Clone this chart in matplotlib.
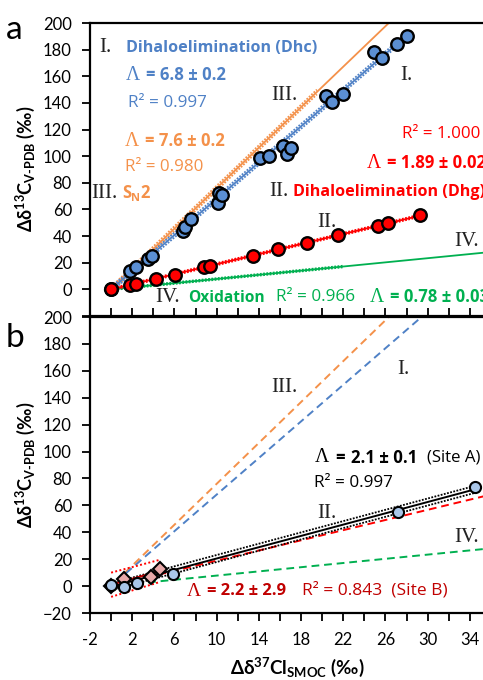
import matplotlib
matplotlib.use("Agg")
import matplotlib.pyplot as plt
import numpy as np

plt.rcParams['font.family'] = ['Lato', 'DejaVu Sans']
plt.rcParams['mathtext.fontset'] = 'custom'
plt.rcParams['mathtext.rm'] = 'Lato:bold'
plt.rcParams['mathtext.bf'] = 'Lato:bold'
plt.rcParams['mathtext.it'] = 'Lato:bold:italic'

# colours
BLUE = '#4F81C6'
ORANGE = '#F4914A'
RED = '#FF0000'
GREEN = '#00B050'
DARKRED = '#C00000'

# ---- panel a data ----
dhc_x = [0, 1.8, 2.4, 3.5, 3.9, 6.8, 7.0, 7.6, 10.1, 10.2, 10.5, 14.1, 15.0,
         16.3, 16.7, 17.0, 20.4, 20.9, 22.0, 24.9, 25.7, 27.1, 28.0]
dhc_y = [0, 13.5, 17, 22.5, 25, 43.5, 46.5, 52.5, 64.5, 72, 71, 99, 100,
         108, 102, 106.5, 145, 141, 147, 178, 174, 184, 190]
dhg_x = [0, 1.8, 2.4, 4.3, 6.1, 8.8, 9.4, 13.4, 15.8, 18.6, 21.5, 25.3, 26.2, 29.3]
dhg_y = [0, 3.5, 4, 8, 11, 17, 17.5, 25, 30.5, 34.5, 40.5, 47.5, 50, 56]

# slopes of the reference mechanisms: I Dhc, II Dhg, III SN2, IV oxidation
slope_dhc, slope_dhg, slope_sn2, slope_ox = 6.8, 1.89, 7.6, 0.78

# ---- panel b data ----
siteA_x = [0, 1.2, 2.5, 5.9, 27.2, 34.5]
siteA_y = [0.5, -1, 2, 9, 55, 73.5]
siteB_x = [0, 1.2, 3.8, 4.6]
siteB_y = [0, 5.5, 6.5, 13]
slope_A, icpt_A = 2.1, -0.5
slope_B, icpt_B = 2.2, 1.0
siteB_upper = ([0, 4.6], [10, 19.5])
siteB_lower = ([0, 4.6], [-8, 3])

xtick_labels = [-2, 2, 6, 10, 14, 18, 22, 26, 30, 34]

fig = plt.figure(figsize=(4.83, 6.8), dpi=100)
W, H = 483.0, 680.0
axa = fig.add_axes([90 / W, 1 - 316 / H, 401 / W, 293 / H])
axb = fig.add_axes([90 / W, 1 - 613 / H, 401 / W, 296 / H])


def fit(ax, slope, x0, x1, icpt=0.0, **kw):
    xs = np.array([x0, x1])
    ax.plot(xs, slope * xs + icpt, **kw)


def band(ax, slope, x0, x1, off, color, lw=1.3):
    xs = np.array([x0, x1])
    for s in (-1, 1):
        ax.plot(xs, slope * xs + s * off, color=color, lw=lw, ls=(0, (1, 0.8)))


# ---------------- panel a ----------------
fit(axa, slope_ox, -0.6, 36, color=GREEN, lw=1.3)
band(axa, slope_ox, 0, 22, 0.6, GREEN)
fit(axa, slope_dhg, 0, 29.5, color=RED, lw=1.3)
band(axa, slope_dhg, 0, 29.5, 0.8, RED)
fit(axa, slope_sn2, -0.4, 27, color=ORANGE, lw=1.3)
band(axa, slope_sn2, 0.3, 19.5, 1.8, ORANGE)
fit(axa, slope_dhc, 0, 28.2, color=BLUE, lw=1.3)
band(axa, slope_dhc, 0, 28.2, 1.8, BLUE)
axa.plot(dhc_x, dhc_y, 'o', ms=9, mfc='#5B8FD3', mec='black', mew=1.7, zorder=5)
axa.plot(dhg_x, dhg_y, 'o', ms=9, mfc=RED, mec='black', mew=1.7, zorder=6)

axa.set_xlim(-2, 36)
axa.set_ylim(-20, 200)
axa.set_yticks(range(-20, 201, 20))
axa.set_yticklabels([''] + [str(v) for v in range(0, 201, 20)])
axa.set_xticks(range(-2, 37, 2))
axa.set_xticklabels([])
axa.tick_params(axis='x', direction='in', length=6, width=1.3)

# ---------------- panel b ----------------
fit(axb, slope_ox, 3.5, 36, color=GREEN, lw=1.4, ls=(0, (4, 2.5)))
fit(axb, slope_dhg, 4.5, 36, color=RED, lw=1.4, ls=(0, (4, 2.5)))
fit(axb, slope_sn2, 1.3, 27, color=ORANGE, lw=1.4, ls=(0, (4, 2.5)))
fit(axb, slope_dhc, 1.4, 30, color=BLUE, lw=1.4, ls=(0, (4, 2.5)))
fit(axb, slope_A, 0, 34.5, icpt=icpt_A, color='black', lw=1.4)
for off in (-2.6, 2.6):
    fit(axb, slope_A, 0, 34.5, icpt=icpt_A + off, color='black', lw=1.3, ls=(0, (1, 0.8)))
fit(axb, slope_B, 0, 4.6, icpt=icpt_B, color=DARKRED, lw=1.5)
axb.plot(*siteB_upper, color=RED, lw=1.4, ls=(0, (1, 1.2)))
axb.plot(*siteB_lower, color=RED, lw=1.4, ls=(0, (1, 1.2)))
axb.plot(siteB_x, siteB_y, 'D', ms=7, mfc='#E8A9A9', mec='black', mew=1.5, zorder=5)
axb.plot(siteA_x, siteA_y, 'o', ms=8, mfc='#A9C6E8', mec='black', mew=1.5, zorder=6)

axb.set_xlim(-2, 36)
axb.set_ylim(-20, 200)
axb.set_yticks(range(-20, 201, 20))
axb.set_xticks(range(-2, 37, 2))
axb.set_xticklabels([str(v) if v in xtick_labels else '' for v in range(-2, 37, 2)])
axb.tick_params(axis='x', direction='out', length=6, width=1.3, pad=8)
axb.tick_params(axis='x', top=False)

for ax in (axa, axb):
    for sp in ax.spines.values():
        sp.set_linewidth(1.6)
    ax.tick_params(axis='y', direction='out', length=6, width=1.3, pad=7)
    ax.tick_params(labelsize=12)

# ---------------- texts ----------------
SERIF = ['Liberation Serif', 'DejaVu Serif']
SANS = ['Open Sans', 'DejaVu Sans']
renderer = fig.canvas.get_renderer()


def ft(x, y, s, **kw):
    kw.setdefault('va', 'center')
    kw.setdefault('ha', 'left')
    return fig.text(x / W, 1 - y / H, s, **kw)


def chain(x, y, pieces, color, scale=1.0):
    # pieces: (text, gap_after_px, style dict); scale multiplies sizes and gaps
    texts = []
    for s, gap, kw in pieces:
        kw = dict(kw)
        kw['fontsize'] = kw['fontsize'] * scale
        t = ft(x, y, s, color=color, **kw)
        texts.append(t)
        x = t.get_window_extent(renderer).x1 + gap * scale
    return texts, x


def fitted(x0, x1, y, pieces, color):
    # shrink / grow the text so that it spans x0..x1 like the reference
    texts, end = chain(x0, y, pieces, color)
    for t in texts:
        t.remove()
    scale = (x1 - x0) / (end - x0)
    chain(x0, y, pieces, color, scale)
    return scale


def roman(x, y, s):
    ft(x, y, s, family=SERIF, fontsize=15, color='#222222')


LAM = dict(family=SERIF, fontsize=13)
BOLD = dict(family=SANS, fontsize=11, fontweight='bold')
REG = dict(family=SANS, fontsize=11)


def lam_pieces(value):
    return [('Λ', 5, LAM), ('= ' + value, 0, BOLD)]


ft(6, 30, 'a', fontsize=24)
ft(6, 338, 'b', fontsize=24)

# panel a
roman(99, 47, 'I.')
s_dh = fitted(126, 318, 48, [('Dihaloelimination (Dhc)', 0, BOLD)], BLUE)
s_lam = fitted(126, 225, 75, lam_pieces('6.8 ± 0.2'), BLUE)
s_r2 = fitted(128, 207, 103, [('R² = 0.997', 0, REG)], BLUE)
fitted(125, 224, 141, lam_pieces('7.6 ± 0.2'), ORANGE)
fitted(125, 203, 167, [('R² = 0.980', 0, REG)], ORANGE)
roman(91, 193, 'III.')
chain(122, 193, [('S', 0, dict(family=SANS, fontsize=12, fontweight='bold')),
                 ('N', 0, dict(family=SANS, fontsize=8, fontweight='bold', va='top')),
                 ('2', 0, dict(family=SANS, fontsize=12, fontweight='bold'))], ORANGE)
roman(400, 76, 'I.')
roman(271, 96, 'III.')
fitted(402, 480, 134, [('R² = 1.000', 0, REG)], RED)
chain(367, 163, lam_pieces('1.89 ± 0.02'), RED, s_lam)
roman(269, 191, 'II.')
chain(293, 192, [('Dihaloelimination (Dhg)', 0, BOLD)], RED, s_dh)
roman(317, 223, 'II.')
roman(454, 241, 'IV.')
roman(155, 297, 'IV.')
fitted(188, 265, 298, [('Oxidation', 0, BOLD)], GREEN)
fitted(276, 355, 297, [('R² = 0.966', 0, REG)], GREEN)
chain(370, 297, lam_pieces('0.78 ± 0.03'), GREEN, s_lam)

# panel b
roman(271, 387, 'III.')
roman(397, 370, 'I.')
fitted(315, 480, 458, [('Λ', 5, LAM), ('=', 6, BOLD), ('2.1 ± 0.1', 9, BOLD),
                       ('(Site A)', 0, REG)], 'black')
fitted(314, 393, 483, [('R² = 0.997', 0, REG)], 'black')
roman(317, 513, 'II.')
roman(454, 538, 'IV.')
fitted(187, 285, 591, lam_pieces('2.2 ± 2.9'), DARKRED)
fitted(302, 447, 590, [('R² = 0.843  (Site B)', 0, REG)], DARKRED)

# axis labels
ylab = 'Δδ$^{13}$C$_{\\mathregular{V\\text{-}PDB}}$ (‰)'
ft(25, 169, ylab, rotation=90, ha='center', fontsize=13, fontweight='bold')
ft(25, 465, ylab, rotation=90, ha='center', fontsize=13, fontweight='bold')
ft(297, 667, 'Δδ$^{37}$Cl$_{\\mathregular{SMOC}}$ (‰)', ha='center', fontsize=13.5,
   fontweight='bold')

fig.savefig('out.png', dpi=100)
